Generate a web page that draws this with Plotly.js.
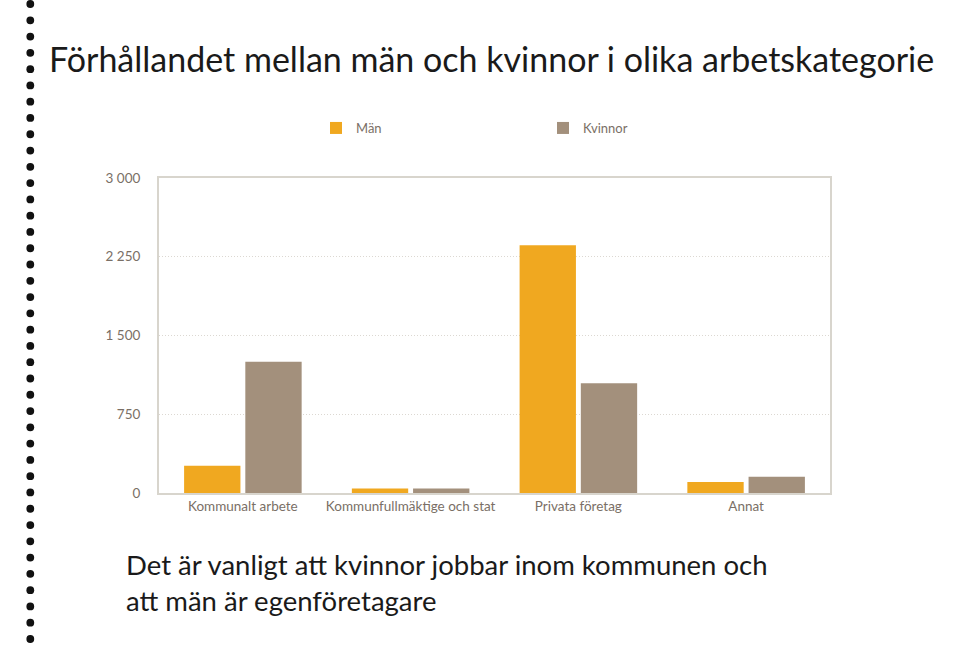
<!DOCTYPE html>
<html>
<head>
<meta charset="utf-8">
<script src="https://cdn.plot.ly/plotly-3.0.1.min.js"></script>
<style>html,body{margin:0;padding:0;background:#fff;}#chart{width:954px;height:653px;}</style>
</head>
<body>
<div id="chart"></div>
<script>
const categories = ["Kommunalt arbete", "Kommunfullmäktige och stat", "Privata företag", "Annat"];
const man = [260, 42, 2360, 105];
const kvinnor = [1250, 42, 1045, 155];
const tickVals = [0, 750, 1500, 2250, 3000];
const tickText = ["0", "750", "1 500", "2 250", "3 000"];

const W = 954, H = 653;
const L = 159, R = 830, T = 178, B = 493;
const px = x => (x - L) / (R - L);
const py = y => (B - y) / (B - T);

const shapes = [];
const nDots = 40, y0 = 4, y1 = 639, r = 3.9, cx = 30.3;
for (let i = 0; i < nDots; i++) {
  const cy = y0 + i * (y1 - y0) / (nDots - 1);
  shapes.push({type: 'circle', xref: 'paper', yref: 'paper',
    x0: px(cx - r), x1: px(cx + r), y0: py(cy + r), y1: py(cy - r),
    fillcolor: '#111', line: {width: 0}});
}

const font = 'Lato, "Open Sans", sans-serif';
const data = [
  {type: 'bar', name: 'Män', x: categories, y: man, marker: {color: '#F0A820'}, hoverinfo: 'y'},
  {type: 'bar', name: 'Kvinnor', x: categories, y: kvinnor, marker: {color: '#A3907C'}, hoverinfo: 'y'}
];
const layout = {
  width: W, height: H,
  margin: {l: L, r: W - R, t: T, b: H - B, pad: 0},
  paper_bgcolor: '#fff', plot_bgcolor: '#fff',
  font: {family: font, color: '#7a6f66', size: 13},
  barmode: 'group', bargap: 0.27, bargroupgap: 0.08,
  showlegend: true,
  legend: {orientation: 'h', x: px(316), xanchor: 'left', y: py(128), yanchor: 'middle',
    font: {size: 13, color: '#7a6f66'}, entrywidth: 182, entrywidthmode: 'pixels',
    itemwidth: 30, traceorder: 'normal'},
  xaxis: {showgrid: false, showline: true, linecolor: '#d8d5cd', linewidth: 2, mirror: true,
    ticks: '', tickfont: {size: 13.5, color: '#7a6f66'}, fixedrange: true},
  yaxis: {range: [0, 3000], tickvals: tickVals, ticktext: tickText, showgrid: true,
    gridcolor: '#dcd8d2', griddash: '1px,2px', gridwidth: 1, showline: true, linecolor: '#d8d5cd',
    linewidth: 2, mirror: true, ticks: '', ticklabelstandoff: 14, zeroline: false,
    tickfont: {size: 13.5, color: '#7a6f66'}, fixedrange: true},
  shapes: shapes,
  annotations: [
    {xref: 'paper', yref: 'paper', x: px(47), y: py(58), xanchor: 'left', yanchor: 'middle',
      text: 'Förhållandet mellan män och kvinnor i olika arbetskategorie', showarrow: false,
      font: {family: font, size: 34, color: '#1a1a1a'}},
    {xref: 'paper', yref: 'paper', x: px(124), y: py(582), xanchor: 'left', yanchor: 'middle',
      align: 'left',
      text: 'Det är vanligt att kvinnor jobbar inom kommunen och<br>att män är egenföretagare', showarrow: false,
      font: {family: font, size: 27.5, color: '#1a1a1a'}}
  ]
};
Plotly.newPlot('chart', data, layout, {displayModeBar: false, staticPlot: true});
</script>
</body>
</html>
